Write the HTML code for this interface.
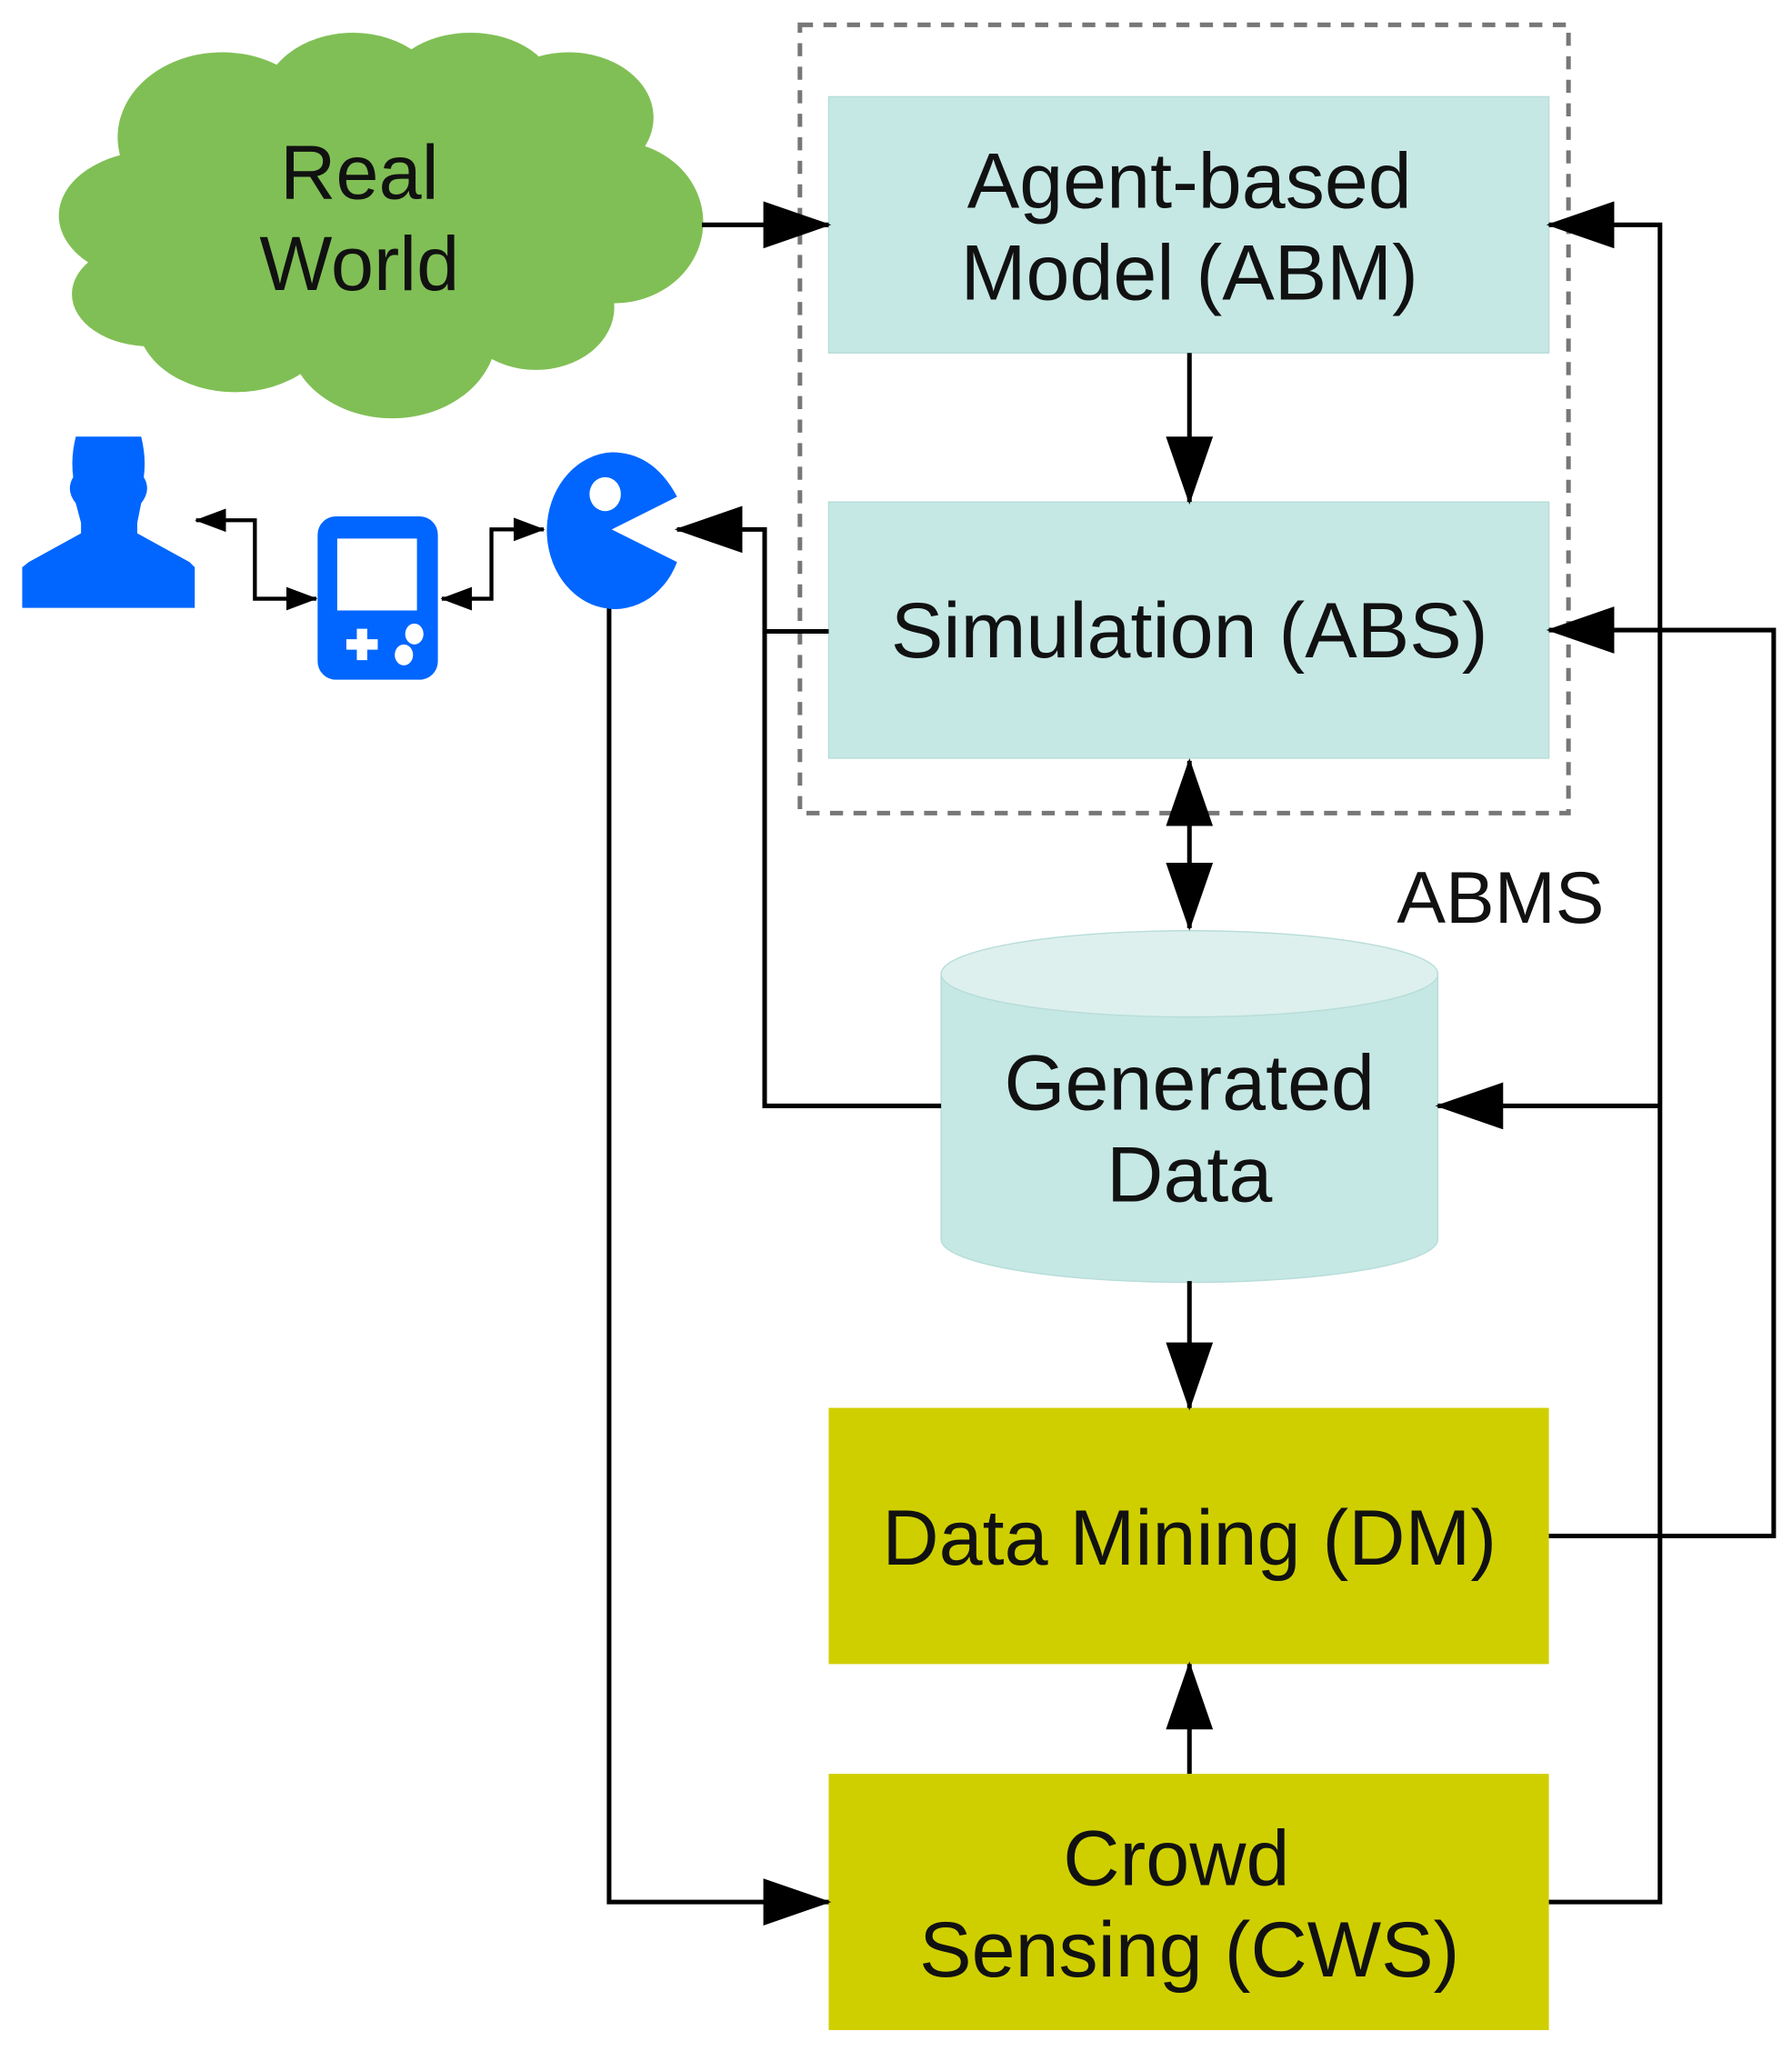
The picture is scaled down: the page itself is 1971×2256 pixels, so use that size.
<!DOCTYPE html>
<html><head><meta charset="utf-8"><style>html,body{margin:0;padding:0;background:#fff}svg{display:block}</style></head>
<body>
<svg width="1971" height="2256" viewBox="0 0 1371 1569" preserveAspectRatio="none" xmlns="http://www.w3.org/2000/svg" font-family="Liberation Sans, Arial, sans-serif">
<defs>
<marker id="a" markerWidth="52" markerHeight="36" refX="50" refY="18" orient="auto" markerUnits="userSpaceOnUse"><path d="M0,0 L52,18 L0,36 Z" fill="#000"/></marker>
<marker id="b" markerWidth="52" markerHeight="36" refX="2" refY="18" orient="auto" markerUnits="userSpaceOnUse"><path d="M52,0 L0,18 L52,36 Z" fill="#000"/></marker>
<marker id="s" markerWidth="24" markerHeight="18" refX="23" refY="9" orient="auto" markerUnits="userSpaceOnUse"><path d="M0,0 L24,9 L0,18 Z" fill="#000"/></marker>
<marker id="sb" markerWidth="24" markerHeight="18" refX="1" refY="9" orient="auto" markerUnits="userSpaceOnUse"><path d="M24,0 L0,9 L24,18 Z" fill="#000"/></marker>
</defs>
<g fill="#80bf55">
<ellipse cx="120" cy="165" rx="75" ry="50"/>
<ellipse cx="170" cy="105" rx="80" ry="65"/>
<ellipse cx="270" cy="80" rx="70" ry="55"/>
<ellipse cx="360" cy="70" rx="65" ry="45"/>
<ellipse cx="435" cy="90" rx="65" ry="50"/>
<ellipse cx="470" cy="170" rx="68" ry="62"/>
<ellipse cx="410" cy="235" rx="60" ry="48"/>
<ellipse cx="300" cy="255" rx="80" ry="65"/>
<ellipse cx="180" cy="245" rx="75" ry="55"/>
<ellipse cx="115" cy="225" rx="60" ry="40"/>
<ellipse cx="290" cy="170" rx="180" ry="100"/>
</g>
<text x="275" y="152" font-size="59" text-anchor="middle" fill="#111">Real</text>
<text x="275" y="222" font-size="59" text-anchor="middle" fill="#111">World</text>
<rect x="612" y="19" width="588" height="603" fill="none" stroke="#777" stroke-width="3.5" stroke-dasharray="10,8"/>
<rect x="634" y="74" width="551" height="196" fill="#c5e8e5" stroke="#b8ddd8"/>
<text x="910" y="159" font-size="60" text-anchor="middle" fill="#111">Agent-based</text>
<text x="910" y="229" font-size="60" text-anchor="middle" fill="#111">Model (ABM)</text>
<rect x="634" y="384" width="551" height="196" fill="#c5e8e5" stroke="#b8ddd8"/>
<text x="910" y="503" font-size="60" text-anchor="middle" fill="#111">Simulation (ABS)</text>
<text x="1148" y="706" font-size="56" text-anchor="middle" fill="#111">ABMS</text>
<path d="M720,745 L720,948 A190,33 0 0 0 1100,948 L1100,745 Z" fill="#c5e8e5" stroke="#b8ddd8"/>
<ellipse cx="910" cy="745" rx="190" ry="33" fill="#ddf0ee" stroke="#b8ddd8"/>
<text x="910" y="849" font-size="60" text-anchor="middle" fill="#111">Generated</text>
<text x="910" y="919" font-size="60" text-anchor="middle" fill="#111">Data</text>
<rect x="634" y="1077" width="551" height="196" fill="#cfcf00"/>
<text x="910" y="1197" font-size="60" text-anchor="middle" fill="#111">Data Mining (DM)</text>
<rect x="634" y="1357" width="551" height="196" fill="#cfcf00"/>
<text x="900" y="1442" font-size="60" text-anchor="middle" fill="#111">Crowd</text>
<text x="910" y="1512" font-size="60" text-anchor="middle" fill="#111">Sensing (CWS)</text>
<g stroke="#000" stroke-width="3.5" fill="none">
<line x1="537" y1="172" x2="634" y2="172" marker-end="url(#a)"/>
<line x1="910" y1="270" x2="910" y2="384" marker-end="url(#a)"/>
<line x1="910" y1="582" x2="910" y2="710" marker-start="url(#b)" marker-end="url(#a)"/>
<line x1="910" y1="980" x2="910" y2="1077" marker-end="url(#a)"/>
<line x1="910" y1="1357" x2="910" y2="1273" marker-end="url(#a)"/>
<polyline points="1185,1455 1270,1455 1270,172 1185,172" marker-end="url(#a)"/>
<polyline points="1270,846 1100,846" marker-end="url(#a)"/>
<polyline points="1185,1175 1357,1175 1357,482 1185,482" marker-end="url(#a)"/>
<polyline points="634,483 585,483"/>
<polyline points="720,846 585,846 585,405 518,405" marker-end="url(#a)"/>
<polyline points="466,462 466,1455 634,1455" marker-end="url(#a)"/>
<polyline points="150,398 195,398 195,458 242,458" marker-start="url(#sb)" marker-end="url(#s)" stroke-width="3"/>
<polyline points="338,458 376,458 376,405 416,405" marker-start="url(#sb)" marker-end="url(#s)" stroke-width="3"/>
</g>
<g fill="#0066ff">
<path d="M58,334 L108,334 Q112,350 110,365 Q116,375 108,385 L105,400 L105,408 L145,430 L149,434 L149,465 L17,465 L17,434 L22,430 L62,408 L62,400 L58,385 Q50,375 56,365 Q54,350 58,334 Z"/>
<rect x="243" y="395" width="92" height="125" rx="14"/>
<path d="M468,405 L518,380 Q500,346 468,346 A52,60 0 1 0 518,430 Z"/>
</g>
<g fill="#fff">
<rect x="258" y="412" width="61" height="55"/>
<rect x="265" y="489" width="24" height="8"/>
<rect x="273" y="481" width="8" height="24"/>
<ellipse cx="317" cy="485" rx="7" ry="8"/>
<ellipse cx="309" cy="501" rx="7" ry="8"/>
<ellipse cx="463" cy="378" rx="12" ry="13"/>
</g>
</svg>
</body></html>
